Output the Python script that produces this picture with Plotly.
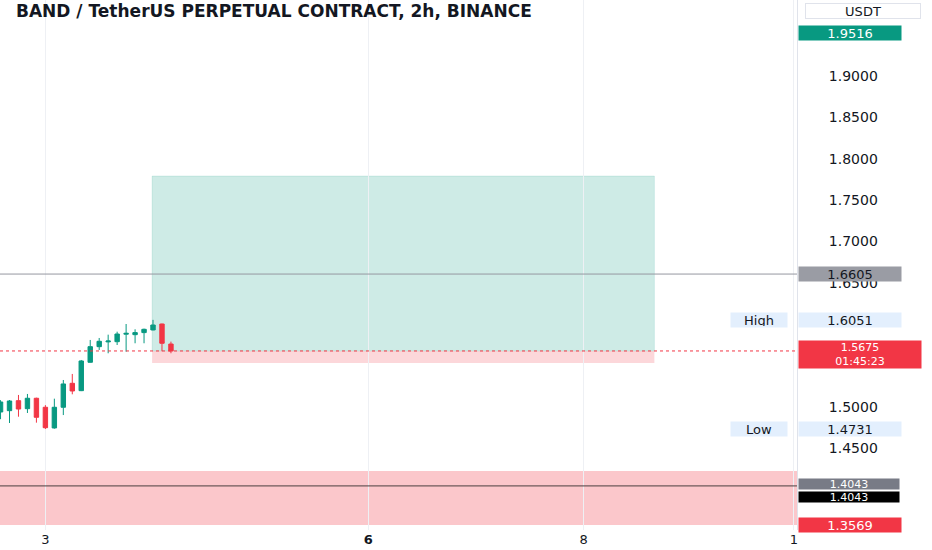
import plotly.graph_objects as go

# ---- data ----
candle_idx = list(range(-5, 15))  # 2h bars; index 0 = day 3 00:00
opens  = [1.4937, 1.4953, 1.5074, 1.4977, 1.5103, 1.4994, 1.4744, 1.4994, 1.5284, 1.5195,
          1.5538, 1.5727, 1.5785, 1.5787, 1.5878, 1.5872, 1.5897, 1.5929, 1.6001, 1.5759]
highs  = [1.5080, 1.5082, 1.5143, 1.5155, 1.5110, 1.5020, 1.5098, 1.5324, 1.5397, 1.5566,
          1.5808, 1.5832, 1.5872, 1.5908, 1.6001, 1.5937, 1.5945, 1.6051, 1.6005, 1.5788]
lows   = [1.4850, 1.4804, 1.4880, 1.4925, 1.4808, 1.4731, 1.4735, 1.4900, 1.5151, 1.5190,
          1.5535, 1.5687, 1.5647, 1.5747, 1.5666, 1.5768, 1.5768, 1.5925, 1.5672, 1.5647]
closes = [1.5058, 1.5070, 1.4973, 1.5103, 1.4873, 1.4747, 1.4994, 1.5276, 1.5191, 1.5554,
          1.5727, 1.5792, 1.5795, 1.5880, 1.5888, 1.5897, 1.5937, 1.5989, 1.5768, 1.5675]

x_tick_vals = [0, 36, 60, 83.45]
x_tick_text = ["3", "<b>6</b>", "8", "1"]
# ticks that are not covered by price labels
y_ticks = [1.45, 1.50, 1.65, 1.70, 1.75, 1.80, 1.85, 1.90]

last_price = 1.5675
countdown = "01:45:23"
high_price = 1.6051
low_price = 1.4731
target_price = 1.7790
stop_price = 1.5530
pos_start, pos_end = 11.9, 67.9
resist_line = 1.6605
support_line = 1.4043
zone_top, zone_bottom = 1.4224, 1.3569
top_label = 1.9516

GREEN = "#089981"
RED = "#F23645"
TXT = "#131722"
FONT = "DejaVu Sans"

fig = go.Figure()
fig.add_trace(go.Candlestick(
    x=candle_idx, open=opens, high=highs, low=lows, close=closes,
    increasing=dict(line=dict(color=GREEN, width=1), fillcolor=GREEN),
    decreasing=dict(line=dict(color=RED, width=1), fillcolor=RED),
    whiskerwidth=0, showlegend=False, hoverinfo="skip"))

# zones / position boxes
fig.add_shape(type="rect", xref="paper", yref="y", x0=0, x1=1, y0=zone_bottom, y1=zone_top,
              fillcolor="rgba(242,54,69,0.28)", line=dict(width=0), layer="below")
fig.add_shape(type="rect", xref="x", yref="y", x0=pos_start, x1=pos_end, y0=last_price, y1=target_price,
              fillcolor="rgba(8,153,129,0.2)", line=dict(width=1, color="rgba(8,153,129,0.12)"), layer="below")
fig.add_shape(type="rect", xref="x", yref="y", x0=pos_start, x1=pos_end, y0=stop_price, y1=last_price,
              fillcolor="rgba(242,54,69,0.2)", line=dict(width=0), layer="below")
# lines
fig.add_shape(type="line", xref="paper", yref="y", x0=0, x1=1, y0=resist_line, y1=resist_line,
              line=dict(color="#9598a1", width=1))
fig.add_shape(type="line", xref="paper", yref="y", x0=0, x1=1, y0=support_line, y1=support_line,
              line=dict(color="#4a3f3f", width=1))
fig.add_shape(type="line", xref="paper", yref="y", x0=0, x1=1, y0=last_price, y1=last_price,
              line=dict(color=RED, width=1, dash="dot"))

def axis_label(y, text, bg, fc="white", width=100, height=12, yshift=0, size=13, pad=1):
    fig.add_annotation(xref="paper", yref="y", x=1, y=y, xanchor="left", yanchor="middle",
                       xshift=1, yshift=yshift, text=text, showarrow=False, width=width, height=height,
                       bgcolor=bg, borderpad=pad, align="center",
                       font=dict(family=FONT, size=size, color=fc))

axis_label(top_label, f"{top_label:.4f}", GREEN)
axis_label(resist_line, f"{resist_line:.4f}", "#9a9ca4", fc=TXT)
axis_label(high_price, f"{high_price:.4f}", "#e3effd", fc=TXT)
axis_label(last_price, f"{last_price:.4f}<br>{countdown}", RED, width=120, height=25, yshift=-4, size=11)
axis_label(low_price, f"{low_price:.4f}", "#e3effd", fc=TXT)
axis_label(support_line, f"{support_line:.4f}", "#787b86", height=10, size=11, pad=0, yshift=2)
axis_label(support_line, f"{support_line:.4f}", "#000000", height=10, size=11, pad=0, yshift=-11)
axis_label(zone_bottom, f"{zone_bottom:.4f}", RED)

for y, t in [(high_price, "High"), (low_price, "Low")]:
    fig.add_annotation(xref="paper", yref="y", x=1, y=y, xanchor="right", yanchor="middle",
                       xshift=-9, text=t, showarrow=False, width=54, height=12, borderpad=1,
                       bgcolor="#e3effd", font=dict(family=FONT, size=13, color=TXT))

fig.add_annotation(xref="paper", yref="paper", x=1, y=1, xanchor="left", yanchor="top",
                   xshift=8, yshift=-3, text="USDT", showarrow=False, width=112, height=12,
                   bordercolor="#e0e3eb", borderwidth=1, borderpad=1, bgcolor="white",
                   font=dict(family=FONT, size=13, color=TXT))

fig.add_annotation(xref="paper", yref="paper", x=0, y=1, xanchor="left", yanchor="top",
                   xshift=14, yshift=1, text="<b>BAND / TetherUS PERPETUAL CONTRACT, 2h, BINANCE</b>",
                   showarrow=False, font=dict(family=FONT, size=17, color=TXT))

fig.update_layout(
    width=932, height=550, margin=dict(l=0, r=135, t=0, b=20),
    paper_bgcolor="white", plot_bgcolor="white", showlegend=False,
    xaxis=dict(range=[-5.06, 83.8], tickvals=x_tick_vals, ticktext=x_tick_text,
               showgrid=True, gridcolor="#eef0f4", zeroline=False, showline=False,
               rangeslider=dict(visible=False), ticks="", fixedrange=True,
               tickfont=dict(family=FONT, size=13, color=TXT)),
    yaxis=dict(range=[1.351, 1.9919], side="right", tickvals=y_ticks,
               ticktext=[f"{v:.4f}" for v in y_ticks], showgrid=False, zeroline=False,
               showline=True, linecolor="#e0e3eb", ticks="", ticklabelstandoff=28,
               tickfont=dict(family=FONT, size=14, color=TXT)),
)

fig.write_html("out.html", config={"displayModeBar": False},
               post_script="document.body.style.margin='0';")
